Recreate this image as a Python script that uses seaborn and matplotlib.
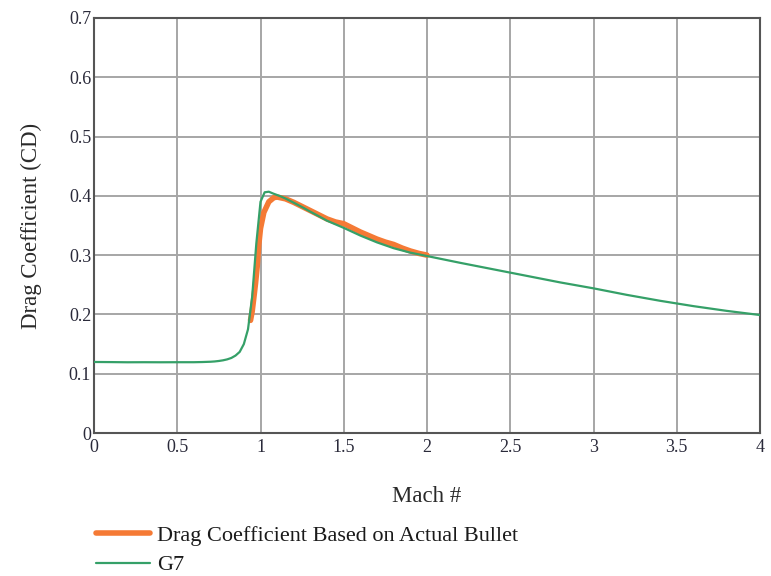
import numpy as np
import pandas as pd
import matplotlib
matplotlib.use("Agg")
import matplotlib.pyplot as plt
import seaborn as sns

# G7 reference drag curve (Mach, CD)
g7_mach = [0.00, 0.10, 0.20, 0.30, 0.40, 0.50, 0.60, 0.65, 0.70, 0.725, 0.75, 0.775,
           0.80, 0.825, 0.85, 0.875, 0.90, 0.925, 0.95, 0.975, 1.00, 1.025, 1.05,
           1.075, 1.10, 1.125, 1.15, 1.20, 1.25, 1.30, 1.35, 1.40, 1.50, 1.60,
           1.70, 1.80, 1.90, 2.00, 2.20, 2.40, 2.60, 2.80, 3.00, 3.20, 3.40,
           3.60, 3.80, 4.00]
g7_cd = [0.1198, 0.1196, 0.1193, 0.1194, 0.1193, 0.1194, 0.1194, 0.1197, 0.1202,
         0.1207, 0.1215, 0.1226, 0.1242, 0.1266, 0.1306, 0.1368, 0.1500, 0.1750,
         0.2300, 0.3200, 0.3900, 0.4060, 0.4070, 0.4040, 0.4014, 0.3987, 0.3955,
         0.3884, 0.3810, 0.3732, 0.3657, 0.3580, 0.3460, 0.3330, 0.3215, 0.3117,
         0.3042, 0.2985, 0.2870, 0.2760, 0.2650, 0.2540, 0.2440, 0.2330, 0.2230,
         0.2140, 0.2060, 0.1990]

# Drag coefficient based on actual bullet
bullet_mach = [0.94, 0.95, 0.96, 0.97, 0.98, 0.99, 1.00, 1.02, 1.05, 1.08, 1.10,
               1.15, 1.20, 1.25, 1.30, 1.35, 1.40, 1.45, 1.50, 1.55, 1.60, 1.65,
               1.70, 1.75, 1.80, 1.85, 1.90, 1.95, 2.00]
bullet_cd = [0.190, 0.205, 0.228, 0.252, 0.280, 0.318, 0.345, 0.372, 0.390, 0.397,
             0.398, 0.395, 0.389, 0.382, 0.375, 0.368, 0.361, 0.356, 0.353, 0.346,
             0.339, 0.333, 0.327, 0.322, 0.318, 0.312, 0.307, 0.303, 0.300]

x_ticks = [0, 0.5, 1, 1.5, 2, 2.5, 3, 3.5, 4]
x_tick_labels = ["0", "0.5", "1", "1.5", "2", "2.5", "3", "3.5", "4"]
y_ticks = [0, 0.1, 0.2, 0.3, 0.4, 0.5, 0.6, 0.7]
y_tick_labels = ["0", "0.1", "0.2", "0.3", "0.4", "0.5", "0.6", "0.7"]

sns.set_style("white")
plt.rcParams['font.family'] = ['Liberation Serif', 'DejaVu Serif']

fig = plt.figure(figsize=(7.71, 5.76), dpi=100)
ax = fig.add_axes([94 / 771, 1 - 433 / 576, 666 / 771, 415 / 576])

bullet_df = pd.DataFrame({"Mach": bullet_mach, "CD": bullet_cd})
g7_df = pd.DataFrame({"Mach": g7_mach, "CD": g7_cd})

orange = "#f57a35"
green = "#35a068"
sns.lineplot(data=bullet_df, x="Mach", y="CD", ax=ax, color=orange, lw=4,
             label="Drag Coefficient Based on Actual Bullet", zorder=3)
sns.lineplot(data=g7_df, x="Mach", y="CD", ax=ax, color=green, lw=1.6,
             label="G7", zorder=4)

ax.set_xlim(0, 4)
ax.set_ylim(0, 0.7)
ax.set_xticks(x_ticks)
ax.set_xticklabels(x_tick_labels)
ax.set_yticks(y_ticks)
ax.set_yticklabels(y_tick_labels)
ax.grid(True, color="#a6a6a6", lw=1.4)
ax.set_axisbelow(True)
for s in ax.spines.values():
    s.set_visible(True)
    s.set_color("#555555")
    s.set_linewidth(1.5)

tick_color = "#2a2a3a"
ax.tick_params(axis="both", length=0, labelsize=13, labelcolor=tick_color)
ax.tick_params(axis="x", pad=4)
ax.tick_params(axis="y", pad=2)

ax.set_xlabel("Mach #", fontsize=16.5, color="#2a2a2a", labelpad=22)
ax.set_ylabel("Drag Coefficient (CD)", fontsize=16.5, color="#2a2a2a", labelpad=19)

ax.get_legend().remove()
handles, labels = ax.get_legend_handles_labels()
leg = fig.legend(handles, labels, loc="upper left",
                 bbox_to_anchor=(96 / 771, 1 - 525 / 576), frameon=False,
                 fontsize=16, handlelength=2.45, handletextpad=0.3,
                 labelspacing=0.42, borderpad=0, borderaxespad=0)
for t in leg.get_texts():
    t.set_color("#1a1a1a")

fig.savefig("out.png", dpi=100)
